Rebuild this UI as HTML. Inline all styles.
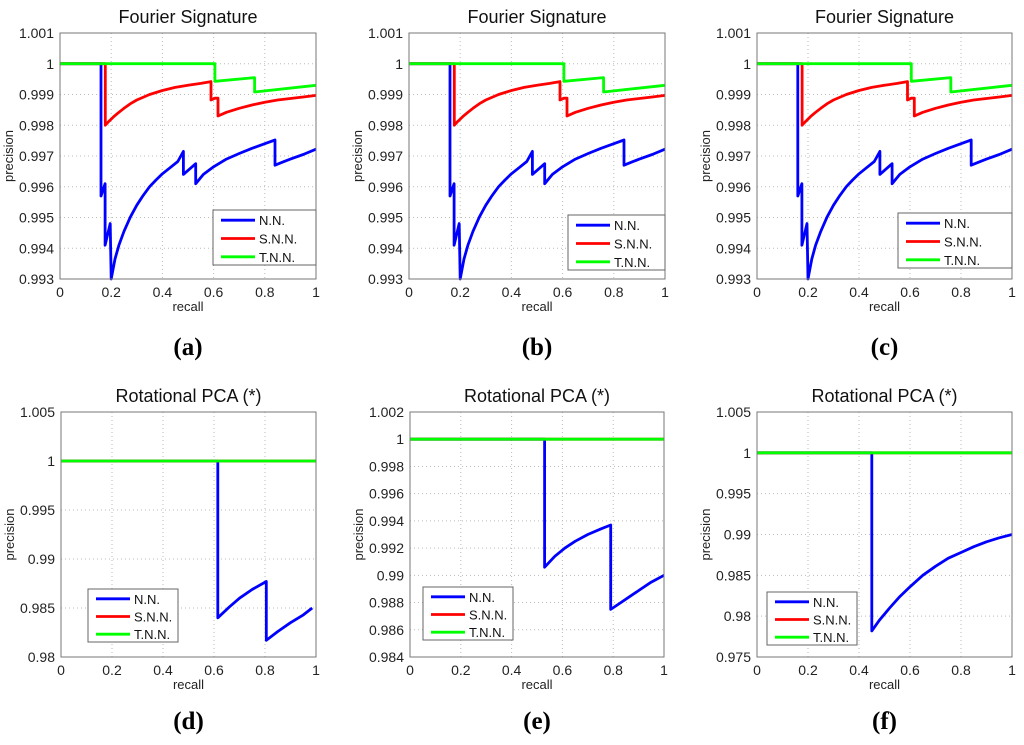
<!DOCTYPE html>
<html><head><meta charset="utf-8"><style>
body{margin:0;background:#fff;width:1024px;height:745px;overflow:hidden}
svg{display:block;font-family:"Liberation Sans",sans-serif}
</style></head><body>
<svg id="fig" width="1024" height="745" viewBox="0 0 1024 745"></svg>
<script>
// ---- data ----
const topTicks = [0.993,0.994,0.995,0.996,0.997,0.998,0.999,1,1.001];
const topTickLabels = ["0.993","0.994","0.995","0.996","0.997","0.998","0.999","1","1.001"];
const dTicks = [0.98,0.985,0.99,0.995,1,1.005];
const dTickLabels = ["0.98","0.985","0.99","0.995","1","1.005"];
const eTicks = [0.984,0.986,0.988,0.99,0.992,0.994,0.996,0.998,1,1.002];
const eTickLabels = ["0.984","0.986","0.988","0.99","0.992","0.994","0.996","0.998","1","1.002"];
const fTicks = [0.975,0.98,0.985,0.99,0.995,1,1.005];
const fTickLabels = ["0.975","0.98","0.985","0.99","0.995","1","1.005"];
const xTicks = [0,0.2,0.4,0.6,0.8,1];
const xTickLabels = ["0","0.2","0.4","0.6","0.8","1"];
const seriesNames = ["N.N.","S.N.N.","T.N.N."];
// Fourier signature series (recall, precision)
const fsNNx = [0,0.16,0.16,0.176,0.176,0.196,0.2,0.215,0.23,0.25,0.275,0.3,0.325,0.35,0.375,0.4,0.43,0.46,0.482,0.482,0.53,0.53,0.56,0.6,0.65,0.7,0.75,0.8,0.84,0.84,0.87,0.9,0.95,1];
const fsNNy = [1,1,0.9957,0.9961,0.9941,0.9948,0.993,0.99365,0.9941,0.99455,0.99502,0.9954,0.99572,0.996,0.99622,0.99642,0.99662,0.99682,0.99715,0.9964,0.99675,0.9961,0.9964,0.99665,0.9969,0.99708,0.99725,0.9974,0.99752,0.9967,0.9968,0.9969,0.99705,0.99722];
const fsSNNx = [0,0.177,0.177,0.19,0.21,0.23,0.25,0.275,0.3,0.35,0.4,0.45,0.5,0.55,0.59,0.59,0.605,0.617,0.617,0.65,0.7,0.75,0.8,0.85,0.9,0.95,1];
const fsSNNy = [1,1,0.998,0.99812,0.99828,0.99842,0.99855,0.9987,0.99882,0.999,0.99913,0.99923,0.9993,0.99936,0.99942,0.99882,0.99888,0.99888,0.9983,0.99842,0.99855,0.99866,0.99875,0.99882,0.99887,0.99892,0.99897];
const fsTNNx = [0,0.605,0.605,0.76,0.76,1];
const fsTNNy = [1,1,0.99943,0.99955,0.99908,0.9993];
const flatX = [0,1];
const flatY = [1,1];
const dNNx = [0,0.615,0.615,0.66,0.7,0.75,0.805,0.805,0.85,0.9,0.95,0.985];
const dNNy = [1,1,0.984,0.9851,0.986,0.9869,0.9877,0.9817,0.9826,0.9835,0.9843,0.985];
const eNNx = [0,0.53,0.53,0.57,0.61,0.65,0.7,0.75,0.79,0.79,0.83,0.87,0.91,0.95,1];
const eNNy = [1,1,0.9906,0.9914,0.992,0.9925,0.9930,0.9934,0.9937,0.9875,0.9880,0.9885,0.9890,0.9895,0.990];
const fNNx = [0,0.45,0.45,0.48,0.52,0.56,0.6,0.65,0.7,0.75,0.8,0.85,0.9,0.95,1];
const fNNy = [1,1,0.9782,0.9795,0.981,0.9824,0.9836,0.985,0.9861,0.9871,0.9878,0.9885,0.9891,0.9896,0.990];

const NS="http://www.w3.org/2000/svg";
const svg=document.getElementById('fig');
function el(tag,attrs,parent){const e=document.createElementNS(NS,tag);for(const k in attrs)e.setAttribute(k,attrs[k]);(parent||svg).appendChild(e);return e;}
const colors=["#0000ff","#ff0000","#00ff00"];

function panel(cfg){
  const g=el('g',{});
  
  
  const L=cfg.x0,R=cfg.x1,T=cfg.y0,B=cfg.y1;
  const ymin=cfg.ticks[0],ymax=cfg.ticks[cfg.ticks.length-1];
  const sx=v=>L+(R-L)*v, sy=v=>B-(B-T)*(v-ymin)/(ymax-ymin);
  el('rect',{x:L,y:T,width:R-L,height:B-T,fill:'#fff'},g);
  xTicks.forEach((t,i)=>{const x=sx(t);
    if(i>0&&i<xTicks.length-1){const gl=el('line',{x1:x,x2:x,y1:T,y2:B,stroke:'#bbb','stroke-dasharray':'1,3','stroke-width':1},g);}
    const tx=el('text',{x:x,y:B+18,'font-size':14,'text-anchor':'middle',fill:'#222'},g);tx.textContent=xTickLabels[i];
    
  });
  cfg.ticks.forEach((t,i)=>{const y=sy(t);
    if(i>0&&i<cfg.ticks.length-1){const gl=el('line',{x1:L,x2:R,y1:y,y2:y,stroke:'#bbb','stroke-dasharray':'1,3','stroke-width':1},g);}
    const tx=el('text',{x:L-6,y:y+5,'font-size':14,'text-anchor':'end',fill:'#222'},g);tx.textContent=cfg.labels[i];
    
  });
  cfg.series.forEach((s,k)=>{
    const pts=s[0].map((x,i)=>sx(x).toFixed(1)+','+sy(s[1][i]).toFixed(1)).join(' ');
    const p=el('polyline',{points:pts,fill:'none',stroke:colors[k],'stroke-width':2.8,'stroke-linejoin':'round'},g);
    
    
  });
  const fr=el('rect',{x:L,y:T,width:R-L,height:B-T,fill:'none',stroke:'#777','stroke-width':1},g);
  
  const tt=el('text',{x:(L+R)/2,y:T-10,'font-size':18,'text-anchor':'middle',fill:'#111'},g);tt.textContent=cfg.title;
  
  const xl=el('text',{x:(L+R)/2,y:B+32,'font-size':13,'text-anchor':'middle',fill:'#222'},g);xl.textContent='recall';
  
  const yl=el('text',{x:0,y:0,'font-size':13,'text-anchor':'middle',fill:'#222',transform:`translate(${L-47},${(T+B)/2}) rotate(-90)`},g);yl.textContent='precision';
  
  const lg=el('g',{},g);
  const [lx,ly,lw,lh]=cfg.legend;
  el('rect',{x:lx,y:ly,width:lw,height:lh,fill:'#fff',stroke:'#666','stroke-width':1},lg);
  seriesNames.forEach((n,k)=>{const yy=ly+lh*(k+0.5)/3+1;
    const ent=el('g',{},lg);
    el('line',{x1:lx+8,x2:lx+42,y1:yy,y2:yy,stroke:colors[k],'stroke-width':2.8},ent);
    const t=el('text',{x:lx+46,y:yy+5,'font-size':13,fill:'#111'},ent);t.textContent=n;});
  const sl=el('text',{x:(L+R)/2,y:cfg.subY,'font-size':25,'font-weight':'bold','text-anchor':'middle','font-family':'"Liberation Serif",serif',fill:'#000'},g);
  sl.textContent='('+cfg.id+')';
  
}
const cols=[[60,316],[409,665],[757,1012]];
const fsSeries=[[fsNNx,fsNNy],[fsSNNx,fsSNNy],[fsTNNx,fsTNNy]];
const legTop=[[213,210,103,55],[568,215,97,55],[898,213,114,55]];
['a','b','c'].forEach((id,i)=>panel({id,x0:cols[i][0],x1:cols[i][1],y0:33,y1:279,ticks:topTicks,labels:topTickLabels,series:fsSeries,title:'Fourier Signature',legend:legTop[i],subY:355}));
panel({id:'d',x0:61,x1:316,y0:412,y1:657,ticks:dTicks,labels:dTickLabels,series:[[dNNx,dNNy],[flatX,flatY],[flatX,flatY]],title:'Rotational PCA (*)',legend:[88,589,90,53],subY:729});
panel({id:'e',x0:410,x1:664,y0:412,y1:657,ticks:eTicks,labels:eTickLabels,series:[[eNNx,eNNy],[flatX,flatY],[flatX,flatY]],title:'Rotational PCA (*)',legend:[423,587,90,53],subY:729});
panel({id:'f',x0:757,x1:1012,y0:412,y1:657,ticks:fTicks,labels:fTickLabels,series:[[fNNx,fNNy],[flatX,flatY],[flatX,flatY]],title:'Rotational PCA (*)',legend:[767,592,90,53],subY:729});
</script>
</body></html>
